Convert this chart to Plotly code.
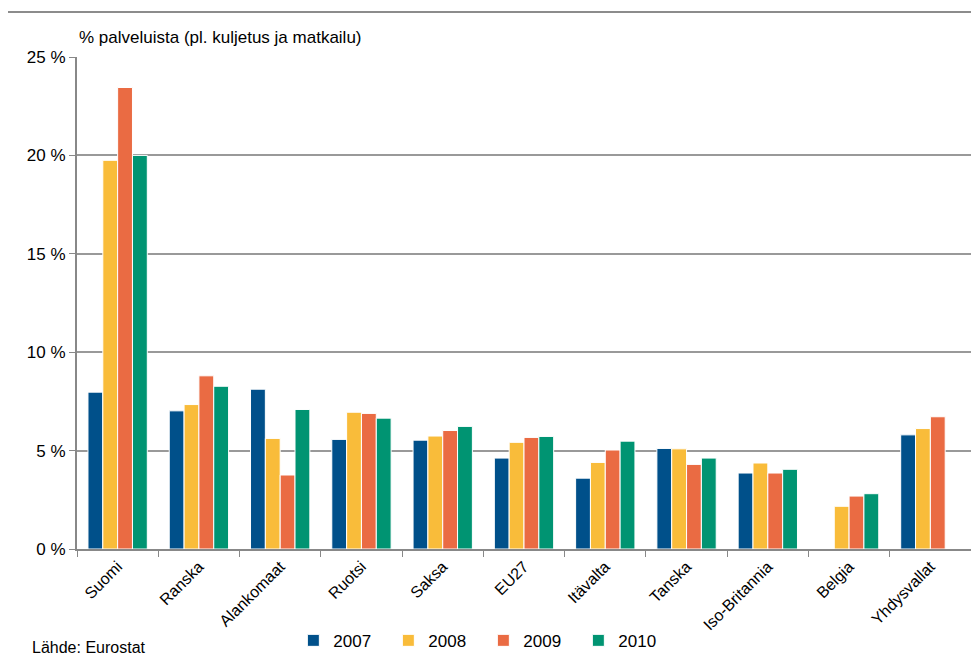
import plotly.graph_objs as go

# ---------------- Data ---------------- #
maat = ['Suomi', 'Ranska', 'Alankomaat', 'Ruotsi', 'Saksa', 'EU27', 'Itävalta',
        'Tanska', 'Iso-Britannia', 'Belgia', 'Yhdysvallat']
v2007 = [7.97, 7.02, 8.12, 5.57, 5.53, 4.62, 3.60, 5.11, 3.86, None, 5.80]
v2008 = [19.75, 7.34, 5.62, 6.95, 5.74, 5.42, 4.40, 5.09, 4.37, 2.17, 6.12]
v2009 = [23.45, 8.80, 3.76, 6.89, 6.02, 5.67, 5.03, 4.30, 3.86, 2.69, 6.72]
v2010 = [20.0, 8.27, 7.09, 6.65, 6.23, 5.72, 5.48, 4.62, 4.05, 2.81, None]
vuodet = ['2007', '2008', '2009', '2010']
varit = ['#00508A', '#F9BC3A', '#EA6B43', '#009472']

FONT = "Liberation Sans"

# ---------------- Figure ---------------- #
fig = go.Figure()
for nimi, arvot, vari in zip(vuodet, [v2007, v2008, v2009, v2010], varit):
    fig.add_trace(go.Bar(
        x=maat, y=arvot, name=nimi,
        marker=dict(color=vari, line=dict(color='white', width=1)),
    ))

# Styling (page body adds an 8px offset, margins compensate)
fig.update_layout(
    width=979, height=657,
    barmode='group', bargap=0.27, bargroupgap=0,
    paper_bgcolor='white', plot_bgcolor='white',
    font=dict(family=FONT, size=15, color='black'),
    margin=dict(l=69, r=16, t=49, b=116, autoexpand=False),
    showlegend=True,
    legend=dict(orientation='h', x=0.242, y=-0.15, xanchor='left', yanchor='top',
                entrywidth=50, font=dict(size=17, family=FONT),
                itemwidth=30, bgcolor='rgba(0,0,0,0)', tracegroupgap=0),
)
fig.update_yaxes(range=[0, 25], dtick=5, ticksuffix=' %', automargin=False,
                 showgrid=True, gridcolor='#999999', gridwidth=1.5,
                 showline=True, linecolor='#888888', linewidth=2,
                 ticks='outside', ticklen=6, tickcolor='#888888',
                 tickfont=dict(size=17), zeroline=False)
fig.update_xaxes(showline=True, linecolor='#888888', linewidth=2, automargin=False,
                 ticks='outside', ticklen=6, tickcolor='#888888', tickson='boundaries',
                 tickangle=-45, tickfont=dict(size=16), showgrid=False,
                 mirror=False)

# Title text and source
fig.add_annotation(text='% palveluista (pl. kuljetus ja matkailu)', xref='paper', yref='paper',
                   x=0.0, y=1.04, xanchor='left', yanchor='middle', showarrow=False,
                   font=dict(size=17))
fig.add_annotation(text='Lähde: Eurostat', xref='paper', yref='paper',
                   x=-0.053, y=-0.178, xanchor='left', yanchor='top', showarrow=False,
                   font=dict(size=16))

# Outer frame
fig.add_shape(type='rect', xref='paper', yref='paper',
              x0=-0.0817, y0=-0.3, x1=1.05, y1=1.0915,
              line=dict(color='#8c8c8c', width=2), layer='below')

fig.write_html("out.html")
